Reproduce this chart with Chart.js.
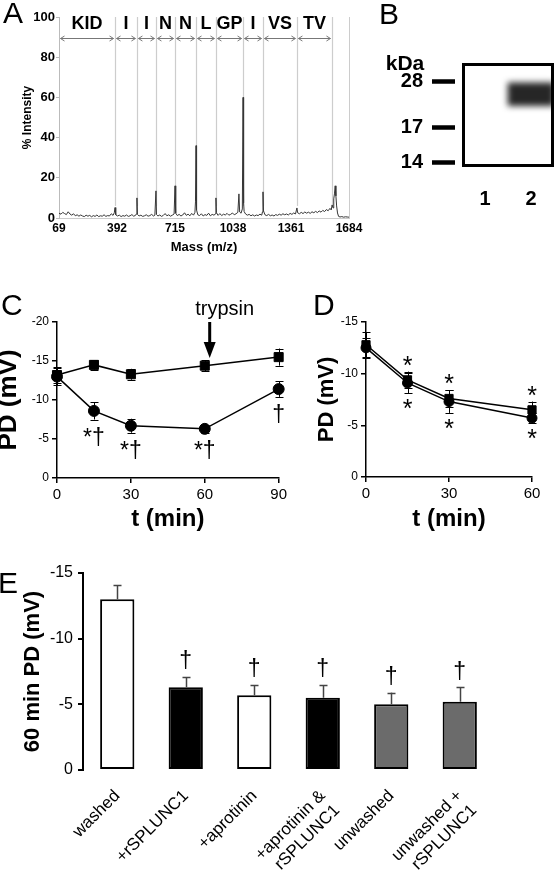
<!DOCTYPE html>
<html><head><meta charset="utf-8">
<script src="https://cdn.jsdelivr.net/npm/chart.js@4.4.1/dist/chart.umd.min.js"></script>
<style>
html,body{margin:0;padding:0;background:#fff;}
body{width:558px;height:872px;overflow:hidden;position:relative;}
.p{position:absolute;}
canvas{display:block;}
</style></head>
<body>
<div class="p" style="left:0;top:0;width:370px;height:255px"><canvas id="ca" width="370" height="255"></canvas></div>
<div class="p" style="left:360px;top:0;width:198px;height:210px"><canvas id="cb" width="198" height="210"></canvas></div>
<div class="p" style="left:-7px;top:283px;width:297px;height:257px"><canvas id="cc" width="297" height="257"></canvas></div>
<div class="p" style="left:290px;top:283px;width:268px;height:257px"><canvas id="cd" width="268" height="257"></canvas></div>
<div class="p" style="left:0;top:540px;width:558px;height:332px"><canvas id="ce" width="558" height="332"></canvas></div>
<script>
// ---------- Panel A: MS/MS spectrum ----------
const spectrum = [
[69,2.4],[80,1.9],[90,2.8],[100,2.2],[110,1.7],[120,3.1],[130,2.0],[140,1.4],[150,2.1],[160,1.1],
[170,1.6],[180,0.9],[190,1.5],[200,1.0],[210,0.7],[220,1.4],[230,0.9],[240,1.3],[250,0.6],[260,1.2],
[270,0.8],[280,1.5],[290,0.7],[300,1.1],[310,0.9],[320,1.6],[330,0.8],[340,1.2],[350,1.0],[360,2.1],
[370,1.3],[377,2.6],[381,5.2],[385,1.6],[395,1.0],[405,1.4],[415,0.7],[425,1.2],[435,0.9],[445,1.5],
[455,0.8],[465,1.1],[475,1.7],[485,0.9],[495,1.3],[500,2.0],[503,10.0],[506,1.8],[515,1.0],[525,1.4],
[535,0.8],[545,1.1],[555,1.6],[565,0.9],[575,1.2],[585,1.8],[595,1.0],[603,1.4],[609,13.5],[612,1.7],
[620,1.0],[630,1.5],[640,0.8],[650,1.3],[660,2.2],[670,1.1],[680,1.6],[690,0.9],[700,1.4],[710,2.0],
[715,16.0],[719,2.4],[728,1.2],[738,1.8],[748,1.0],[758,1.5],[768,2.6],[778,1.3],[788,1.9],[798,1.1],
[808,2.3],[818,1.4],[826,2.8],[829,8.0],[832,36.0],[835,4.0],[842,1.6],[852,1.2],[862,2.1],[872,1.0],
[882,1.7],[892,1.3],[902,2.4],[912,1.1],[922,1.8],[932,1.4],[940,2.0],[943,10.0],[946,2.6],[955,1.3],
[965,2.2],[975,1.2],[985,1.9],[995,1.5],[1005,2.3],[1015,1.4],[1025,1.8],[1035,2.5],[1045,1.6],[1055,2.1],
[1065,2.8],[1071,12.0],[1075,3.0],[1083,2.4],[1090,4.5],[1094,60.0],[1097,7.5],[1100,3.2],[1108,2.0],[1118,1.4],
[1128,1.8],[1138,1.1],[1148,1.6],[1158,1.0],[1168,1.5],[1178,1.2],[1188,1.9],[1198,1.4],[1202,3.0],[1205,13.0],
[1208,3.5],[1216,1.6],[1226,1.2],[1236,1.8],[1246,1.1],[1256,1.5],[1266,1.0],[1276,1.7],[1286,1.3],[1296,1.9],
[1306,1.4],[1316,2.1],[1326,1.6],[1336,2.0],[1346,1.5],[1356,2.3],[1366,1.8],[1376,2.5],[1386,2.0],[1394,5.0],
[1398,2.6],[1408,2.1],[1418,2.8],[1428,2.2],[1438,3.0],[1448,2.4],[1458,2.9],[1468,2.3],[1478,3.1],[1488,2.6],
[1498,3.3],[1508,2.7],[1518,3.5],[1528,2.9],[1538,3.8],[1548,3.2],[1558,4.2],[1568,3.6],[1578,4.8],[1585,4.0],
[1590,6.5],[1595,5.0],[1599,9.5],[1603,12.0],[1607,16.0],[1611,11.0],[1615,6.0],[1620,2.5],[1626,0.8],[1634,0.5],
[1644,0.7],[1654,0.4],[1664,0.6],[1674,0.5],[1684,0.4]
];
const massTicks = [69, 392, 715, 1038, 1361, 1684];
const fragmentMz = [69, 381, 503, 609, 715, 832, 943, 1094, 1205, 1394, 1589];
const fragmentLabels = ['KID','I','I','N','N','L','GP','I','VS','TV'];

// ---------- Panel B: western blot ----------
const lanes = ['1', '2'];
const markerKDa = [28, 17, 14];
const markerMigration = [18, 62, 96];      // % of gel height
const bandMigration = [null, [19, 41]];    // lane 2 band

// ---------- Panel C ----------
const timeC = [0, 15, 30, 60, 90];
const cSquare = [-13.2, -14.5, -13.3, -14.4, -15.5];
const cSquareErr = [1.0, 0.6, 0.7, 0.7, 1.1];
const cCircle = [-13.0, -8.6, -6.7, -6.3, -11.4];
const cCircleErr = [1.1, 1.1, 0.9, 0.5, 1.0];
const cCircleMarks = ['', '*†', '*†', '*†', '†'];
const trypsinTime = 62;

// ---------- Panel D ----------
const timeD = [0, 15, 30, 60];
const dSquare = [-12.8, -9.4, -7.6, -6.5];
const dSquareErr = [1.2, 0.8, 0.8, 0.8];
const dCircle = [-12.5, -9.1, -7.3, -5.7];
const dCircleErr = [1.0, 1.0, 1.1, 0.5];
const dSquareMarks = ['', '*', '*', '*'];
const dCircleMarks = ['', '*', '*', '*'];

// ---------- Panel E ----------
const conditions = ['washed', '+rSPLUNC1', '+aprotinin', ['+aprotinin &', 'rSPLUNC1'], 'unwashed', ['unwashed +', 'rSPLUNC1']];
const pd60 = [-13.0, -6.3, -5.7, -5.5, -5.0, -5.2];
const pd60Err = [1.1, 0.8, 0.8, 1.0, 0.9, 1.1];
const pd60Marks = ['', '†', '†', '†', '†', '†'];

// ================= rendering =================
const FAM = "'Liberation Sans', Arial, Helvetica, sans-serif";
Chart.defaults.font.family = FAM;
Chart.defaults.color = '#000';
Chart.defaults.animation = false;
Chart.defaults.responsive = false;
Chart.defaults.devicePixelRatio = 1;
Chart.defaults.plugins.legend.display = false;
Chart.defaults.plugins.tooltip.enabled = false;

function txtCenter(ctx, text, x, y) {
  const m = ctx.measureText(text);
  ctx.textAlign = 'center'; ctx.textBaseline = 'alphabetic';
  ctx.fillText(text, x, y + (m.actualBoundingBoxAscent - m.actualBoundingBoxDescent) / 2);
}
function txtTopLeft(ctx, text, left, top) {
  const m = ctx.measureText(text);
  ctx.textAlign = 'left'; ctx.textBaseline = 'alphabetic';
  ctx.fillText(text, left + m.actualBoundingBoxLeft, top + m.actualBoundingBoxAscent);
}
function valOf(d) { return (d && typeof d === 'object' && !Array.isArray(d)) ? d.y : d; }

function drawErrors(chart, behind) {
  const ctx = chart.ctx, ys = chart.scales.y;
  chart.data.datasets.forEach((ds, i) => {
    if (!ds.errors || !!ds.errorBehind !== behind) return;
    const meta = chart.getDatasetMeta(i);
    ctx.save();
    ctx.strokeStyle = ds.errorColor || '#000';
    ctx.lineWidth = ds.errorWidth || 1;
    const cap = ds.errorCap || 4;
    meta.data.forEach((el, j) => {
      const v = valOf(ds.data[j]); const e = ds.errors[j];
      if (v == null || !e) return;
      const x = Math.round(el.x) + 0.5;
      const yTop = ys.getPixelForValue(v - e);
      const yBot = ds.errorUpOnly ? ys.getPixelForValue(v) : ys.getPixelForValue(v + e);
      ctx.beginPath();
      ctx.moveTo(x, yTop); ctx.lineTo(x, yBot);
      ctx.moveTo(x - cap, Math.round(yTop) + 0.5); ctx.lineTo(x + cap, Math.round(yTop) + 0.5);
      if (!ds.errorUpOnly) { ctx.moveTo(x - cap, Math.round(yBot) + 0.5); ctx.lineTo(x + cap, Math.round(yBot) + 0.5); }
      ctx.stroke();
    });
    ctx.restore();
  });
}
const errorBars = {
  id: 'errorBars',
  beforeDatasetsDraw(chart) { drawErrors(chart, true); },
  afterDatasetsDraw(chart) { drawErrors(chart, false); }
};
const sigMarks = {
  id: 'sigMarks',
  afterDatasetsDraw(chart) {
    const ctx = chart.ctx, ys = chart.scales.y;
    chart.data.datasets.forEach((ds, i) => {
      if (!ds.marks) return;
      const meta = chart.getDatasetMeta(i);
      ctx.save(); ctx.fillStyle = '#000'; ctx.font = ds.markFont;
      meta.data.forEach((el, j) => {
        const t = ds.marks[j]; if (!t) return;
        const v = valOf(ds.data[j]); const e = ds.errors ? ds.errors[j] : 0;
        let y;
        if (ds.markPos === 'above') y = ys.getPixelForValue(v - e) - ds.markGap;
        else y = ys.getPixelForValue(v + e) + ds.markGap;
        txtCenter(ctx, t, el.x, y);
      });
      ctx.restore();
    });
  }
};
function panelLetter(letter, left, top) {
  return { id: 'letter' + letter, afterDraw(chart) {
    const ctx = chart.ctx; ctx.save(); ctx.fillStyle = '#000';
    ctx.font = '30px ' + FAM; txtTopLeft(ctx, letter, left, top); ctx.restore(); } };
}

// ---------- Chart A ----------
const fragPlugin = {
  id: 'frag',
  beforeDatasetsDraw(chart) {
    const { ctx, scales: { x, y } } = chart;
    ctx.save();
    ctx.strokeStyle = '#cdcdcd'; ctx.lineWidth = 1.2;
    fragmentMz.slice(1).forEach(m => {
      const px = Math.round(x.getPixelForValue(m)) + 0.5;
      ctx.beginPath(); ctx.moveTo(px, y.getPixelForValue(100)); ctx.lineTo(px, y.getPixelForValue(6)); ctx.stroke();
    });
    ctx.strokeStyle = '#777'; ctx.lineWidth = 1;
    const ay = Math.round(y.getPixelForValue(89.5)) + 0.5;
    ctx.fillStyle = '#000'; ctx.font = 'bold 18px ' + FAM;
    for (let i = 0; i < fragmentLabels.length; i++) {
      const x1 = x.getPixelForValue(fragmentMz[i]) + 1.5, x2 = x.getPixelForValue(fragmentMz[i + 1]) - 1.5;
      ctx.beginPath();
      ctx.moveTo(x1, ay); ctx.lineTo(x2, ay);
      ctx.moveTo(x1 + 4, ay - 2.5); ctx.lineTo(x1, ay); ctx.lineTo(x1 + 4, ay + 2.5);
      ctx.moveTo(x2 - 4, ay - 2.5); ctx.lineTo(x2, ay); ctx.lineTo(x2 - 4, ay + 2.5);
      ctx.stroke();
      txtCenter(ctx, fragmentLabels[i], (x1 + x2) / 2, y.getPixelForValue(97.3));
    }
    ctx.restore();
  }
};
new Chart(document.getElementById('ca'), {
  type: 'line',
  data: { datasets: [{
    data: spectrum.map(p => ({ x: p[0], y: p[1] })),
    borderColor: '#353535', borderWidth: 1, pointRadius: 0, tension: 0, clip: false
  }] },
  options: {
    layout: { padding: { top: 17, right: 21, left: 0, bottom: 0 } },
    scales: {
      x: { type: 'linear', min: 69, max: 1684,
        afterBuildTicks: s => { s.ticks = massTicks.map(v => ({ value: v })); },
        afterFit: s => { s.height = 37; },
        grid: { drawOnChartArea: false, drawTicks: false },
        border: { color: '#cccccc', width: 1 },
        ticks: { callback: v => String(v), font: { size: 12, weight: 'bold' }, color: '#000', padding: 3, maxRotation: 0, autoSkip: false },
        title: { display: true, text: 'Mass (m/z)', font: { size: 13, weight: 'bold' }, color: '#000', padding: { top: 0, bottom: 0 } } },
      y: { min: 0, max: 100, ticks: { stepSize: 20, font: { size: 13, weight: 'bold' }, color: '#000', padding: 1 },
        afterFit: s => { s.width = 59; },
        grid: { drawOnChartArea: false, drawTicks: true, tickLength: 3, color: '#bbbbbb' },
        border: { color: '#bbbbbb', width: 1 },
        title: { display: true, text: '% Intensity', font: { size: 12, weight: 'bold' }, color: '#000', padding: { top: 20, bottom: 0 } } },
      yr: { position: 'right', min: 0, max: 100, display: true, afterFit: s => { s.width = 0; },
        grid: { display: false }, ticks: { display: false }, border: { color: '#cccccc', width: 1 } }
    }
  },
  plugins: [fragPlugin, panelLetter('A', 3, 3)]
});

// ---------- Chart B ----------
const blotPlugin = {
  id: 'blot',
  beforeDatasetsDraw(chart) { chart.ctx.save(); chart.ctx.filter = 'blur(3px)'; },
  afterDatasetsDraw(chart) {
    const ctx = chart.ctx; ctx.restore();
    const a = chart.chartArea;
    ctx.save(); ctx.strokeStyle = '#000'; ctx.lineWidth = 3;
    ctx.strokeRect(a.left + 1.5, a.top + 1.5, a.right - a.left - 3, a.bottom - a.top - 3);
    ctx.fillStyle = '#000'; ctx.font = 'bold 21px ' + FAM;
    txtCenter(ctx, 'kDa', 45, 62);
    ctx.restore();
  }
};
new Chart(document.getElementById('cb'), {
  type: 'bar',
  data: { labels: lanes, datasets: [{ data: bandMigration, backgroundColor: '#262626', borderWidth: 0,
    barPercentage: 1, categoryPercentage: 1 }] },
  options: {
    layout: { padding: { top: 63, right: 4, left: 0, bottom: 0 } },
    scales: {
      x: { afterFit: s => { s.height = 43; }, grid: { display: false }, border: { display: false },
        ticks: { font: { size: 20, weight: 'bold' }, color: '#000', padding: 12 } },
      y: { reverse: true, min: 0, max: 100,
        afterBuildTicks: s => { s.ticks = markerMigration.map(v => ({ value: v })); },
        afterFit: s => { s.width = 102; },
        ticks: { callback: (v, i) => markerKDa[i], font: { size: 20, weight: 'bold' }, color: '#000', padding: 9, autoSkip: false },
        grid: { drawOnChartArea: false, drawTicks: true, tickLength: 30, tickWidth: 4.5, tickColor: '#000' },
        border: { display: true, width: 14, color: 'rgba(0,0,0,0)' } }
    }
  },
  plugins: [blotPlugin, panelLetter('B', 21, 4)]
});

// ---------- Chart C ----------
const trypsinPlugin = {
  id: 'trypsin',
  afterDraw(chart) {
    const { ctx, chartArea: a, scales: { x } } = chart;
    const px = x.getPixelForValue(trypsinTime);
    ctx.save(); ctx.fillStyle = '#000';
    ctx.font = '20px ' + FAM;
    txtCenter(ctx, 'trypsin', px + 15, a.top - 13);
    ctx.fillRect(px - 1.5, a.top, 3, 22);
    ctx.beginPath(); ctx.moveTo(px - 6, a.top + 20); ctx.lineTo(px + 6, a.top + 20); ctx.lineTo(px, a.top + 36); ctx.closePath(); ctx.fill();
    ctx.restore();
  }
};
function lineScales(xmax, yWidth, xHeight, yTitleSize, yTitlePad) {
  return {
    x: { type: 'linear', min: 0, max: xmax,
      ticks: { stepSize: 30, font: { size: 15 }, color: '#000', padding: 3 },
      grid: { drawOnChartArea: false, drawTicks: true, tickLength: 5, color: '#000', lineWidth: 1.5 },
      border: { color: '#000', width: 1.5 },
      afterFit: s => { s.height = xHeight; },
      title: { display: true, text: 't (min)', font: { size: 24, weight: 'bold' }, color: '#000', padding: { top: 0, bottom: 6 } } },
    y: { reverse: true, min: yTitleSize === 26 ? -20 : -15, max: 0,
      ticks: { stepSize: 5, font: { size: 12 }, color: '#000', padding: 3 },
      grid: { drawOnChartArea: false, drawTicks: true, tickLength: 5, color: '#000', lineWidth: 1.5 },
      border: { color: '#000', width: 1.5 },
      afterFit: s => { s.width = yWidth; },
      title: { display: true, text: 'PD (mV)', font: { size: yTitleSize, weight: 'bold' }, color: '#000', padding: { top: yTitlePad, bottom: 0 } } }
  };
}
function series(times, vals, errs, style, radius, extra) {
  return Object.assign({
    data: times.map((t, i) => ({ x: t, y: vals[i] })),
    borderColor: '#000', backgroundColor: '#000', borderWidth: 1.5,
    pointStyle: style, pointRadius: radius, pointBorderWidth: 1, tension: 0, clip: false,
    errors: errs, errorBehind: true, errorCap: 4, errorWidth: 1
  }, extra || {});
}
new Chart(document.getElementById('cc'), {
  type: 'line',
  data: { datasets: [
    series(timeC, cSquare, cSquareErr, 'rect', 6.4),
    series(timeC, cCircle, cCircleErr, 'circle', 5.5, { marks: cCircleMarks, markPos: 'below', markGap: 17, markFont: '23px ' + FAM })
  ] },
  options: {
    layout: { padding: { top: 39, right: 11, left: 0, bottom: 0 } },
    scales: lineScales(90, 64, 62, 26, 0)
  },
  plugins: [errorBars, sigMarks, trypsinPlugin, panelLetter('C', 9, 12)]
});

// ---------- Chart D ----------
new Chart(document.getElementById('cd'), {
  type: 'line',
  data: { datasets: [
    series(timeD, dSquare, dSquareErr, 'rect', 5.8, { marks: dSquareMarks, markPos: 'above', markGap: 11, markFont: '25px ' + FAM }),
    series(timeD, dCircle, dCircleErr, 'circle', 5, { marks: dCircleMarks, markPos: 'below', markGap: 11, markFont: '25px ' + FAM })
  ] },
  options: {
    layout: { padding: { top: 39, right: 26, left: 0, bottom: 0 } },
    scales: lineScales(60, 76, 63, 22, 24)
  },
  plugins: [errorBars, sigMarks, panelLetter('D', 25, 12)]
});

// ---------- Chart E ----------
new Chart(document.getElementById('ce'), {
  type: 'bar',
  data: { labels: conditions, datasets: [{
    data: pd60,
    backgroundColor: ['#ffffff', '#000000', '#ffffff', '#000000', '#6b6b6b', '#6b6b6b'],
    borderColor: '#000', borderWidth: 2, borderSkipped: false,
    barPercentage: 0.5, categoryPercentage: 1,
    errors: pd60Err, errorUpOnly: true, errorBehind: false, errorCap: 4, errorWidth: 1.5, errorColor: '#444',
    marks: pd60Marks, markPos: 'above', markGap: 17, markFont: '23px ' + FAM
  }] },
  options: {
    layout: { padding: { top: 33, right: 64, left: 0, bottom: 0 } },
    scales: {
      x: { grid: { display: false }, border: { display: false },
        ticks: { minRotation: 45, maxRotation: 45, autoSkip: false, font: { size: 17 }, color: '#000', padding: 8 },
        afterFit: s => { s.height = 102; } },
      y: { reverse: true, min: -15, max: 0,
        ticks: { stepSize: 5, font: { size: 16 }, color: '#000', padding: 5 },
        grid: { drawOnChartArea: false, drawTicks: true, tickLength: 5, color: '#000', lineWidth: 2 },
        border: { color: '#000', width: 2 },
        afterFit: s => { s.width = 83; },
        title: { display: true, text: '60 min PD (mV)', font: { size: 22, weight: 'bold' }, color: '#000', padding: { top: 20, bottom: 0 } } }
    }
  },
  plugins: [errorBars, sigMarks, panelLetter('E', 0, 33)]
});
</script>
</body></html>
